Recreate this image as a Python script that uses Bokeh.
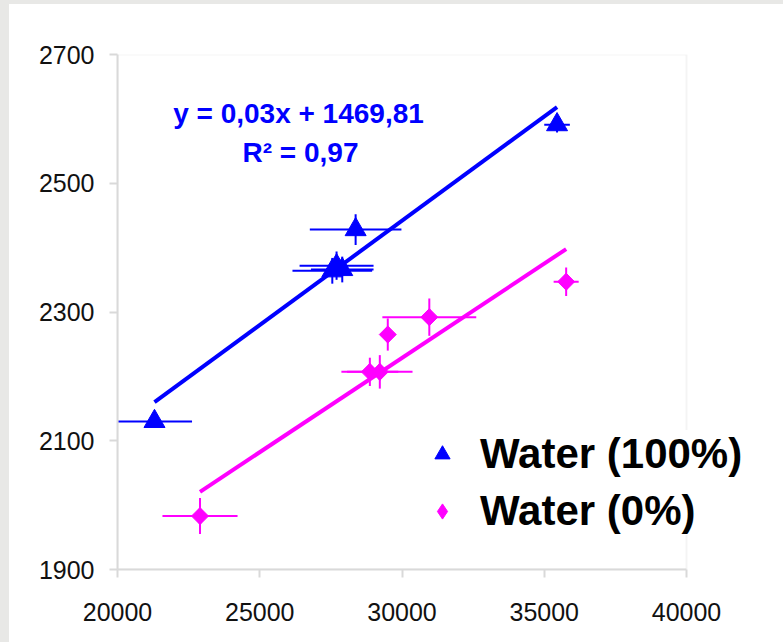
import numpy as np
from bokeh.plotting import figure
from bokeh.models import Range1d, FixedTicker, Legend, LegendItem, Label, BoxAnnotation
from bokeh.embed import file_html
from bokeh.resources import INLINE

# ---- data ----
water100_x = [21300, 27550, 27700, 27900, 28370, 35450]
water100_y = [2130, 2364, 2372, 2366, 2428, 2591]
water100_xerr = [1320, 1400, 1300, 1100, 1610, 450]
water100_yerr = [8, 20, 22, 20, 24, 12]

water0_x = [22900, 28870, 29220, 29500, 30960, 35770]
water0_y = [1983, 2207, 2207, 2265, 2292, 2347]
water0_xerr = [1320, 1000, 1150, 150, 1650, 440]
water0_yerr = [28, 22, 26, 25, 29, 22]

trend100_slope, trend100_intercept = 0.0324, 1469.81
trend0_slope, trend0_intercept = 0.0293, 1349.7

x_ticks = [20000, 25000, 30000, 35000, 40000]
y_ticks = [1900, 2100, 2300, 2500, 2700]
x_min, x_max = 20000, 40000
y_min, y_max = 1900, 2700
eq_line1 = "y = 0,03x + 1469,81"
eq_line2 = "R\u00b2 = 0,97"
legend_labels = ["Water (100%)", "Water (0%)"]

BLUE = "#0000ff"
PINK = "#ff00ff"
FONT = "Liberation Sans"
FRAME_GRAY = "#d9d9d9"

# layout: axes box is 569 px wide; the drawing frame is extended to the right
# so that the legend can overhang the box like in the original.
box_px = 569
frame_px = 643
x_end = x_min + (x_max - x_min) * frame_px / box_px

p = figure(width=774, height=638, x_range=Range1d(x_min, x_end), y_range=Range1d(y_min, y_max),
           output_backend="svg", toolbar_location=None,
           min_border_left=108, min_border_right=774 - 108 - frame_px, min_border_top=50,
           min_border_bottom=73)
p.margin = (4, 0, 0, 9)
p.background_fill_color = "white"
p.border_fill_color = "white"
p.outline_line_color = None
p.xgrid.grid_line_color = None
p.ygrid.grid_line_color = None

for ax, ticks in ((p.xaxis[0], x_ticks), (p.yaxis[0], y_ticks)):
    ax.ticker = FixedTicker(ticks=ticks)
    ax.axis_line_color = FRAME_GRAY
    ax.axis_line_width = 2
    ax.major_tick_line_color = FRAME_GRAY
    ax.major_tick_line_width = 2
    ax.major_tick_in = 0
    ax.major_tick_out = 8
    ax.minor_tick_line_color = None
    ax.major_label_text_font = FONT
    ax.major_label_text_font_size = "25px"
    ax.major_label_text_color = "#111111"
p.xaxis.bounds = (x_min, x_max)
p.xaxis.major_label_standoff = 25
p.yaxis.major_label_standoff = 15

# axes box (frame outline)
p.add_layout(BoxAnnotation(left=x_min, right=x_max, bottom=y_min, top=y_max,
                           fill_alpha=0, line_color=FRAME_GRAY, line_width=2))

for xs, ys, xe, ye, col in ((water100_x, water100_y, water100_xerr, water100_yerr, BLUE),
                            (water0_x, water0_y, water0_xerr, water0_yerr, PINK)):
    xs, ys, xe, ye = map(np.asarray, (xs, ys, xe, ye))
    x0 = np.maximum(xs - xe, x_min)
    p.segment(x0=x0, y0=ys, x1=xs + xe, y1=ys, line_color=col, line_width=2)
    p.segment(x0=xs, y0=ys - ye, x1=xs, y1=ys + ye, line_color=col, line_width=2)

# trend lines
tx100 = np.array([min(water100_x), max(water100_x)])
p.line(tx100, trend100_slope * tx100 + trend100_intercept, line_color=BLUE, line_width=4)
tx0 = np.array([min(water0_x), max(water0_x)])
p.line(tx0, trend0_slope * tx0 + trend0_intercept, line_color=PINK, line_width=4)

r100 = p.scatter(water100_x, water100_y, marker="triangle", size=21, fill_color=BLUE, line_color=BLUE)
r0_leg = p.scatter(water0_x, water0_y, marker="diamond", size=17, fill_color=PINK, line_color=PINK)
r0 = p.scatter(water0_x, water0_y, marker="square", angle=np.pi / 4, size=12, fill_color=PINK, line_color=PINK)

legend = Legend(items=[LegendItem(label=legend_labels[0], renderers=[r100]),
                       LegendItem(label=legend_labels[1], renderers=[r0_leg])],
                location=(305, 34), orientation="vertical",
                glyph_width=40, glyph_height=38, label_standoff=18, padding=20, spacing=9,
                label_text_font=FONT, label_text_font_size="42px", label_text_font_style="bold",
                label_text_color="black", background_fill_color="white", background_fill_alpha=1.0,
                border_line_color=None)
p.add_layout(legend)

p.add_layout(Label(x=181, y=456, x_units="screen", y_units="screen", text=eq_line1,
                   text_align="center", text_baseline="middle", text_font=FONT,
                   text_font_size="28px", text_font_style="bold", text_color=BLUE))
p.add_layout(Label(x=183, y=417, x_units="screen", y_units="screen", text=eq_line2,
                   text_align="center", text_baseline="middle", text_font=FONT,
                   text_font_size="28px", text_font_style="bold", text_color=BLUE))

html = file_html(p, INLINE)
css = ("<style>html, body { background: "
       "linear-gradient(#e8e8e6, #e8e8e6) left top / 100% 4px no-repeat, "
       "linear-gradient(#e8e8e6, #e8e8e6) left top / 9px 100% no-repeat, "
       "#ffffff !important; }</style>")
html = html.replace("</head>", css + "</head>", 1)
open("out.html", "w").write(html)
